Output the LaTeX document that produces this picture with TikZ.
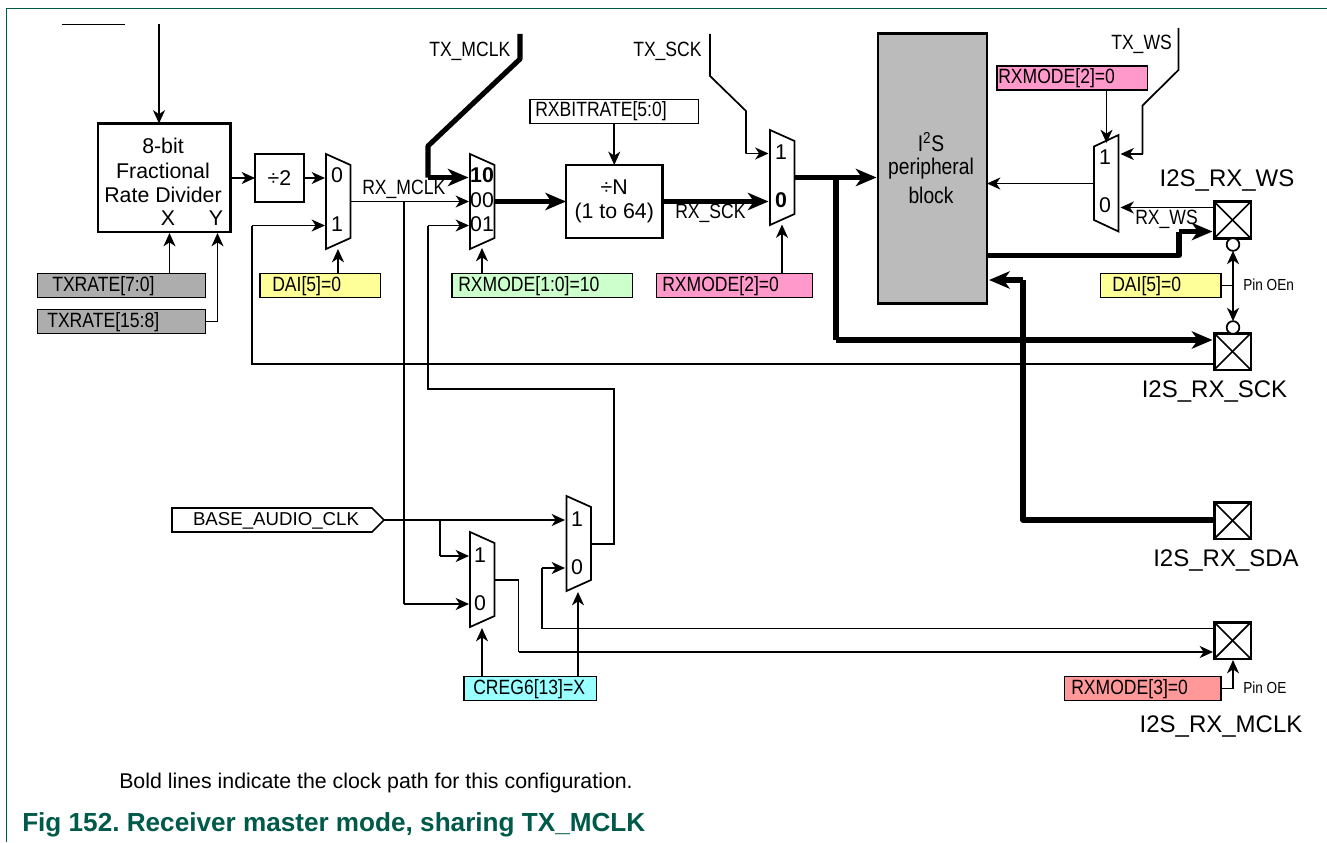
\documentclass[tikz,border=0pt]{standalone}
\usepackage{fontspec}
\setmainfont{Liberation Sans}
\newfontfamily\cond[FakeStretch=0.85]{Liberation Sans}
\usetikzlibrary{arrows.meta}
\definecolor{nxpgreen}{RGB}{0,90,74}
\definecolor{lgray}{RGB}{173,173,173}
\definecolor{blockgray}{RGB}{187,187,187}
\definecolor{lyellow}{RGB}{255,255,153}
\definecolor{lgreen}{RGB}{204,255,204}
\definecolor{lpink}{RGB}{255,153,204}
\definecolor{lcyan}{RGB}{153,255,255}
\definecolor{lsalmon}{RGB}{255,153,153}
\frenchspacing
\tikzset{
  wire/.style={line width=1.3pt,line join=miter,-{Stealth[length=10pt,width=9pt,inset=3pt]}},
  plainwire/.style={line width=1.3pt,line join=miter},
  thickwire/.style={line width=3.8pt,line join=round,-{Stealth[length=15.5pt,width=13pt,inset=4.5pt]}},
  thickplain/.style={line width=3.8pt,line join=round},
  muxshape/.style={line width=1.3pt,fill=white,line join=miter},
  strongbox/.style={draw,line width=1.9pt,fill=white,inner sep=0pt,outer sep=0pt,align=center},
  ctrlbox/.style={draw,line width=1pt,inner sep=0pt,outer sep=0pt},
  pinbox/.style={draw,line width=2pt,fill=white,inner sep=0pt,outer sep=0pt,minimum width=27.5pt,minimum height=27.5pt},
  oecircle/.style={draw,circle,line width=1.3pt,fill=white,inner sep=0pt,outer sep=0pt,minimum size=9.5pt},
  lab/.style={font=\cond\fontsize{15.5}{15.5}\selectfont,inner sep=0pt,anchor=base west},
  num/.style={font=\fontsize{16}{16}\selectfont,inner sep=0pt},
  pinname/.style={font=\fontsize{18}{18}\selectfont,inner sep=0pt},
  small/.style={font=\cond\fontsize{12}{12}\selectfont,inner sep=0pt,anchor=base west},
}
% name, x1, y1, x2, y2, fill, text x, text
\newcommand{\ctrl}[8]{%
  \node[ctrlbox,fill=#6,minimum width={((#4)-(#2))*0.75pt},minimum height={((#5)-(#3))*0.75pt}] (#1) at ({((#2)+(#4))/2},{((#3)+(#5))/2}) {};
  \node[lab] (#1t) at (#7,{(#3)+17.5}) {#8};}
% mux with wide side left: name, xleft, ytop
\newcommand{\muxL}[3]{%
  \draw[muxshape] (#2,#3) -- (#2+24.5,#3+11) -- (#2+24.5,#3+84) -- (#2,#3+95) -- cycle;
  \coordinate (#1) at (#2,#3);}
\begin{document}
\begin{tikzpicture}[x=0.75pt,y=-0.75pt]
\useasboundingbox (0,0) rectangle (1327,842);
\fill[white] (0,0) rectangle (1327,842);
% page frame
\coordinate (frameA) at (6.5,842);
\coordinate (frameB) at (6.5,8.5);
\coordinate (frameC) at (1327,8.5);
\draw[nxpgreen,line width=0.9pt] (frameA) -- (frameB) -- (frameC);
\coordinate (stubA) at (62,24.5);
\coordinate (stubB) at (125,24.5);
\draw[line width=1.3pt] (stubA) -- (stubB);

% free ends and bends
\coordinate (topclk) at (159,24);
\coordinate (txmA) at (520,34);
\coordinate (txmB) at (520,59);
\coordinate (txmC) at (428,146);
\coordinate (txmD) at (428,177.5);
\coordinate (txmE) at (468.5,177.5);
\coordinate (txsA) at (710,34);
\coordinate (txsB) at (710,76);
\coordinate (txsC) at (746,111);
\coordinate (txsD) at (746,153.5);
\coordinate (txsE) at (768.5,153.5);
\coordinate (txwA) at (1178.5,28);
\coordinate (txwB) at (1178.5,70);
\coordinate (txwC) at (1142.5,105.5);
\coordinate (txwD) at (1142.5,154);
\coordinate (txwE) at (1120.5,154);

% wires under the boxes
\coordinate (mA1) at (325,225.5);
\coordinate (sckfbA) at (252,225.5);
\coordinate (sckfbB) at (252,364);
\coordinate (sckfbC) at (1214,364);
\draw[plainwire] (sckfbC) -- (sckfbB) -- (sckfbA);
\draw[wire] (sckfbA) -- (mA1);
\coordinate (mclkA) at (350,201.5);
\coordinate (mclkB) at (469,201.5);
\coordinate (mclkJ) at (404,201.5);
\coordinate (mclkK) at (404,604);
\coordinate (mclkL) at (469,604);
\draw[wire] (mclkA) -- (mclkB);
\draw[plainwire] (mclkJ) -- (mclkK);
\draw[wire] (mclkK) -- (mclkL);
\coordinate (fbA) at (591,544);
\coordinate (fbB) at (614,544);
\coordinate (fbC) at (614,389);
\coordinate (fbD) at (428,389);
\coordinate (fbE) at (428,225.5);
\coordinate (fbF) at (469,225.5);
\draw[plainwire] (fbA) -- (fbB) -- (fbC) -- (fbD) -- (fbE);
\draw[wire] (fbE) -- (fbF);
\coordinate (mcinA) at (1214,628.5);
\coordinate (mcinB) at (542,628.5);
\coordinate (mcinC) at (542,568);
\coordinate (mcinD) at (565,568);
\draw[plainwire] (mcinA) -- (mcinB) -- (mcinC);
\draw[wire] (mcinC) -- (mcinD);
\coordinate (mcoutA) at (494,580);
\coordinate (mcoutB) at (518.5,580);
\coordinate (mcoutC) at (518.5,652);
\coordinate (mcoutD) at (1213,652);
\draw[plainwire] (mcoutA) -- (mcoutB) -- (mcoutC);
\draw[wire] (mcoutC) -- (mcoutD);
\coordinate (baJ) at (440,520);
\coordinate (baK) at (440,556);
\coordinate (baL) at (469,556);
\coordinate (baM) at (565,520);
\draw[plainwire] (baJ) -- (baK);
\draw[wire] (baK) -- (baL);

% main boxes
\node[strongbox,minimum width={132.5*0.75pt},minimum height={108.5*0.75pt}] (rate) at (164.25,177.75) {};
\node[strongbox,minimum width={49*0.75pt},minimum height={48*0.75pt},font=\fontsize{16}{16}\selectfont] (div2) at (279.5,178) {÷2};
\node[strongbox,minimum width={96.5*0.75pt},minimum height={73*0.75pt},font=\fontsize{16}{18.5}\selectfont] (divn) at (614.25,201.5) {÷N\\(1 to 64)};
\node[draw,line width=1.9pt,fill=blockgray,inner sep=0pt,outer sep=0pt,minimum width={109*0.75pt},minimum height={270*0.75pt}] (i2s) at (932.5,168.5) {};

% control boxes
\ctrl{txA}{37.5}{273.5}{205.5}{297.5}{lgray}{52}{TXRATE[7:0]}
\ctrl{txB}{37.5}{309.5}{205.5}{333.5}{lgray}{47}{TXRATE[15:8]}
\ctrl{daiA}{260}{273.5}{380.5}{297.5}{lyellow}{272}{DAI[5]=0}
\ctrl{rxmA}{452}{273.5}{632.5}{297.5}{lgreen}{458}{RXMODE[1:0]=10}
\ctrl{rxmB}{656.5}{273.5}{812.5}{297.5}{lpink}{662}{RXMODE[2]=0}
\ctrl{rxmC}{997}{66}{1147.5}{90}{lpink}{998}{RXMODE[2]=0}
\ctrl{rbr}{530}{99.5}{698.5}{123.5}{white}{535}{RXBITRATE[5:0]}
\ctrl{daiB}{1100.5}{273.5}{1221}{297.5}{lyellow}{1112}{DAI[5]=0}
\ctrl{creg}{464}{676.5}{596.5}{700.5}{lcyan}{473}{CREG6[13]=X}
\ctrl{rxmD}{1064.5}{676.5}{1221}{700.5}{lsalmon}{1071}{RXMODE[3]=0}

% multiplexers
\muxL{muxA}{326}{154}
\muxL{muxB}{470}{154}
\muxL{muxC}{770}{130}
\muxL{muxD}{470}{532}
\muxL{muxE}{566.5}{496}
\draw[muxshape] (1094,146.5) -- (1118.5,135) -- (1118.5,231.5) -- (1094,220) -- cycle;
\coordinate (muxFin) at (1094,183.5);

% pins
\node[pinbox] (pinWS) at (1232.5,220) {};
\node[pinbox] (pinSCK) at (1232.5,351.5) {};
\node[pinbox] (pinSDA) at (1232.5,520.5) {};
\node[pinbox] (pinMCLK) at (1232.5,640.5) {};
\foreach \p in {pinWS,pinSCK,pinSDA,pinMCLK}{
  \draw[line width=1.3pt] (\p.north west) -- (\p.south east);
  \draw[line width=1.3pt] (\p.north east) -- (\p.south west);
}
\node[oecircle] (oeA) at (1233,244.5) {};
\node[oecircle] (oeB) at (1233,327.5) {};

% control arrows
\draw[wire] (topclk) -- (rate.north -| topclk);
\coordinate (rateX) at (169.5,233);
\coordinate (rateY) at (217.5,233);
\coordinate (txBr) at (217.5,321.5);
\draw[wire] (txA.north -| rateX) -- (rateX);
\draw[plainwire] (txB.east |- txBr) -- (txBr);
\draw[wire] (txBr) -- (rateY);
\draw[wire] (rate.east |- div2) -- (div2.west);
\coordinate (muxAin) at (325,178);
\draw[wire] (div2.east) -- (muxAin);
\coordinate (muxAs) at (338,249);
\draw[wire] (daiA.north -| muxAs) -- (muxAs);
\coordinate (muxBs) at (482,248);
\draw[wire] (rxmA.north -| muxBs) -- (muxBs);
\coordinate (muxCs) at (782,224.5);
\draw[wire] (rxmB.north -| muxCs) -- (muxCs);
\draw[wire] (rbr.south -| divn) -- (divn.north);
\coordinate (muxDs) at (482,628);
\coordinate (muxEs) at (578,592);
\draw[wire] (creg.north -| muxDs) -- (muxDs);
\draw[wire] (creg.north -| muxEs) -- (muxEs);
\coordinate (muxFs) at (1106.5,143);
\draw[wire] (rxmC.south -| muxFs) -- (muxFs);
\draw[wire] (muxFin) -- (i2s.east |- muxFin);
\coordinate (wsOutA) at (1214,207.5);
\coordinate (wsOutB) at (1120.5,207.5);
\draw[wire] (wsOutA) -- (wsOutB);
\draw[wire] (daiB.east -| oeA) -- (oeA.south);
\draw[wire] (daiB.east -| oeB) -- (oeB.north);
\draw[plainwire] (daiB.east) -- (daiB.east -| oeA);
\coordinate (oeTip) at (1233,660);
\coordinate (oeBend) at (1233,688.5);
\draw[plainwire] (rxmD.east) -- (oeBend);
\draw[wire] (oeBend) -- (oeTip);
\draw[wire] (txsD) -- (txsE);
\draw[plainwire] (txsA) -- (txsB) -- (txsC) -- (txsD);
\draw[plainwire] (txwA) -- (txwB) -- (txwC) -- (txwD);
\draw[wire] (txwD) -- (txwE);

% bold clock path
\draw[thickplain] (txmA) -- (txmB) -- (txmC) -- (txmD);
\draw[thickwire] (txmD) -- (txmE);
\coordinate (muxBout) at (494.5,201.5);
\draw[thickwire] (muxBout) -- (divn.west);
\coordinate (muxCin) at (768.5,201.5);
\draw[thickwire] (divn.east |- muxCin) -- (muxCin);
\coordinate (muxCout) at (794.5,177.5);
\coordinate (i2sIn) at (876.5,177.5);
\coordinate (brA) at (836,177.5);
\coordinate (brB) at (836,340);
\coordinate (brC) at (1212.5,340);
\draw[thickwire] (muxCout) -- (i2sIn);
\draw[thickplain] (brA) -- (brB);
\draw[thickwire] (brB) -- (brC);
\coordinate (wsA) at (987,255.5);
\coordinate (wsB) at (1179,255.5);
\coordinate (wsC) at (1179,231.5);
\coordinate (wsD) at (1212.5,231.5);
\draw[thickplain] (wsA) -- (wsB) -- (wsC);
\draw[thickwire] (wsC) -- (wsD);
\coordinate (sdaA) at (1214,520);
\coordinate (sdaB) at (1023,520);
\coordinate (sdaC) at (1023,280);
\coordinate (sdaD) at (989,280);
\draw[thickplain] (sdaA) -- (sdaB) -- (sdaC);
\draw[thickwire] (sdaC) -- (sdaD);

% BASE_AUDIO_CLK
\node[draw=none,inner sep=0pt] (baseTip) at (384,520) {};
\draw[line width=1.3pt,fill=white,line join=miter] (172,508) -- (372,508) -- (baseTip.center) -- (372,532) -- (172,532) -- cycle;
\draw[wire] (baseTip.center) -- (baM);
\node[inner sep=0pt,font=\fontsize{14}{14}\selectfont] (baseLab) at (276,520.5) {BASE\_AUDIO\_CLK};

% texts
\node[font=\fontsize{16}{16}\selectfont,inner sep=0pt] (rt1) at (163,146) {8-bit};
\node[font=\fontsize{16}{16}\selectfont,inner sep=0pt] (rt2) at (163,171) {Fractional};
\node[font=\fontsize{16}{16}\selectfont,inner sep=0pt] (rt3) at (163,195) {Rate Divider};
\node[num] (rtX) at (168,218) {X};
\node[num] (rtY) at (216,218) {Y};
\node[num] (a0) at (337,175.5) {0};
\node[num] (a1) at (337,224) {1};
\node[num,font=\bfseries\fontsize{16}{16}\selectfont] (b0) at (482,175.5) {10};
\node[num] (b1) at (482,200) {00};
\node[num] (b2) at (482,224) {01};
\node[num] (c0) at (781,152) {1};
\node[num,font=\bfseries\fontsize{16}{16}\selectfont] (c1) at (781,200) {0};
\node[num] (d0) at (480,555) {1};
\node[num] (d1) at (480,603) {0};
\node[num] (e0) at (577,519) {1};
\node[num] (e1) at (577,567) {0};
\node[num] (f0) at (1105,157) {1};
\node[num] (f1) at (1105,205) {0};
\node[lab] (lmclk) at (362,194) {RX\_MCLK};
\node[lab] (lsck) at (675,218) {RX\_SCK};
\node[lab] (lws) at (1135,224) {RX\_WS};
\node[lab] (ltxm) at (429,57) {TX\_MCLK};
\node[lab] (ltxs) at (633,57) {TX\_SCK};
\node[lab] (ltxw) at (1111,50) {TX\_WS};
\node[font=\cond\fontsize{17}{17}\selectfont,inner sep=0pt] (ib1) at (931,142) {I\textsuperscript{2}S};
\node[font=\cond\fontsize{17}{17}\selectfont,inner sep=0pt] (ib2) at (931,169) {peripheral};
\node[font=\cond\fontsize{17}{17}\selectfont,inner sep=0pt] (ib3) at (931,195) {block};
\node[pinname] (nWS) at (1227,181) {I2S\_RX\_WS};
\node[pinname] (nSCK) at (1214.5,392) {I2S\_RX\_SCK};
\node[pinname] (nSDA) at (1226,560) {I2S\_RX\_SDA};
\node[pinname] (nMCLK) at (1221,726) {I2S\_RX\_MCLK};
\node[small] (oen) at (1243,290) {Pin OEn};
\node[small] (oe) at (1243,693) {Pin OE};
\node[inner sep=0pt,anchor=base west,font=\fontsize{16}{16}\selectfont] (note) at (119,788) {Bold lines indicate the clock path for this configuration.};
\node[inner sep=0pt,anchor=base west,text=nxpgreen,font=\bfseries\fontsize{19.6}{19.6}\selectfont] (cap) at (22,831) {Fig 152. Receiver master mode, sharing TX\_MCLK};
\end{tikzpicture}
\end{document}
